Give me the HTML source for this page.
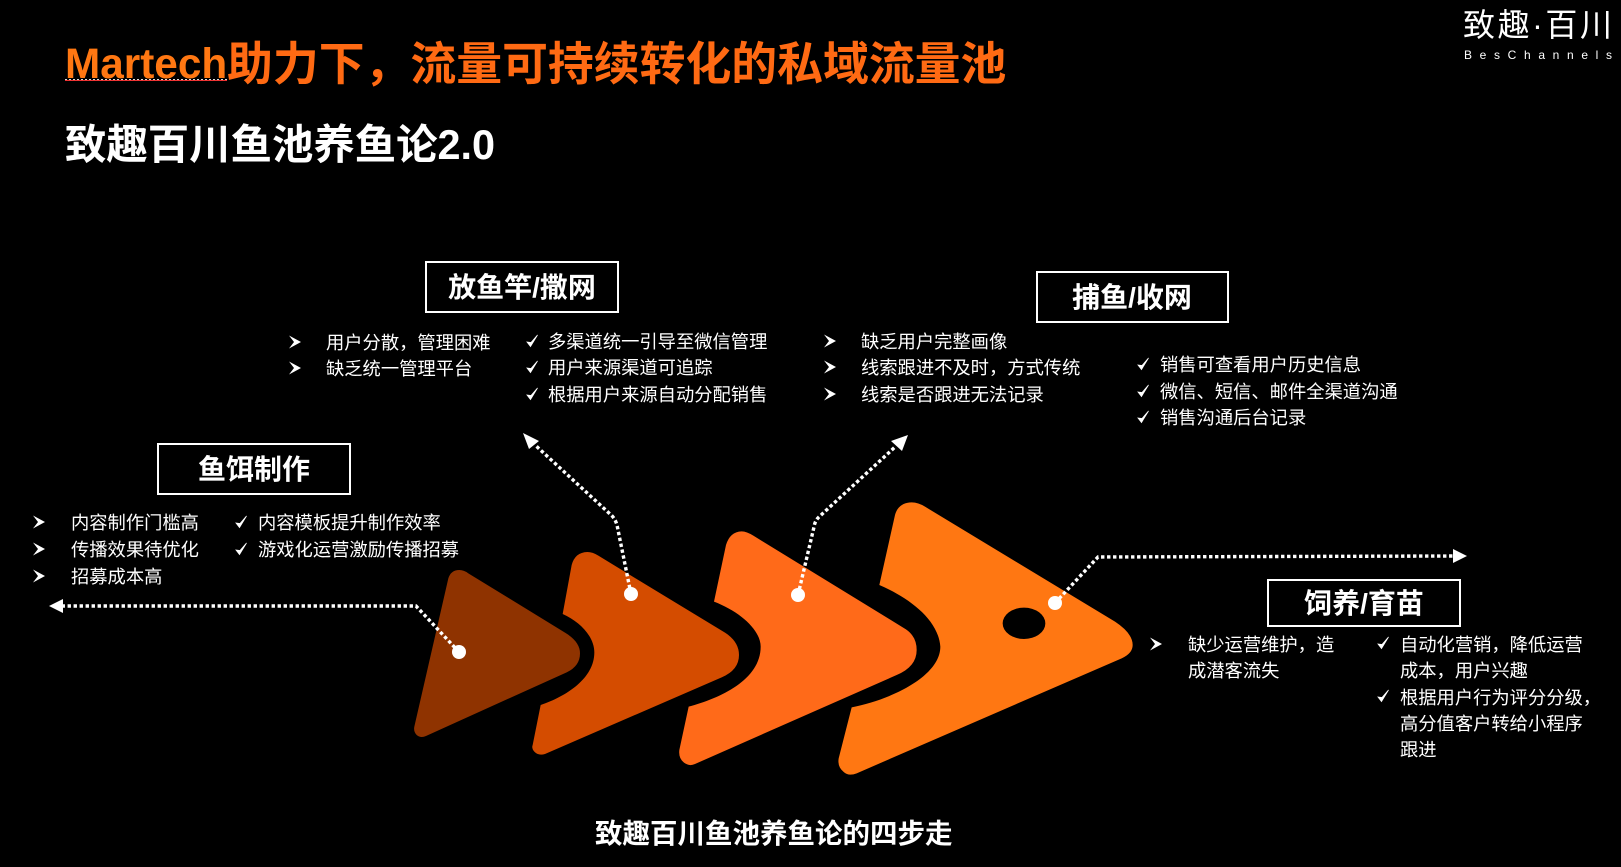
<!DOCTYPE html>
<html lang="zh">
<head>
<meta charset="utf-8">
<style>
html,body{margin:0;padding:0;background:#000;width:1621px;height:867px;overflow:hidden}
svg{display:block}
text{font-family:"Liberation Sans","Noto Sans CJK SC",sans-serif}
.t{font-size:18.3px;fill:#fff}
.h{font-size:28px;font-weight:700;fill:#fff;text-anchor:middle}
.box{fill:none;stroke:#fff;stroke-width:2}
.dash{fill:none;stroke:#fff;stroke-width:3.4;stroke-dasharray:3.4 2.6}
</style>
</head>
<body>
<svg width="1621" height="867" viewBox="0 0 1621 867" xmlns="http://www.w3.org/2000/svg">
<defs>
<path id="ar" d="M0 -6.5L12 0L0 6.5L5 0Z" fill="#fff"/>
<path id="ck" d="M0 1L3.5 5.5L10.5 -6L4 1.5Z" fill="#fff" stroke="#fff" stroke-width=".8"/>
</defs>
<rect width="1621" height="867" fill="#000"/>

<!-- Titles -->
<text x="65" y="78" font-size="42.3" font-weight="700" fill="#ff7712">Martech</text>
<text x="227" y="80" font-size="45.85" font-weight="700" fill="#ff6a13">助力下，流量可持续转化的私域流量池</text>
<line x1="65" y1="80.5" x2="227" y2="80.5" stroke="#e33" stroke-width="1"/>
<line x1="65" y1="79.5" x2="227" y2="79.5" stroke="#ddd" stroke-width="1" stroke-dasharray="2 2"/>
<text x="65" y="159" font-size="41.4" font-weight="700" fill="#fff">致趣百川鱼池养鱼论2.0</text>

<!-- Logo -->
<text x="1463" y="36" font-size="32" font-weight="400" fill="#fff" textLength="149" lengthAdjust="spacing">致趣·百川</text>
<text x="1464" y="59" font-size="12" fill="#fff" textLength="148" lengthAdjust="spacing">BesChannels</text>

<!-- Fish shapes -->
<g transform="translate(400,490) scale(0.33333)">
<path fill="#8f3300" d="M145 265Q153 240 178 240Q192 240 205 250L495 428Q540 455 540 490Q540 528 500 547L78 738Q62 745 50 735Q40 725 43 710Z"/>
<path fill="#d44c00" d="M488 372L515 225Q525 187 562 186Q578 186 595 197L975 428Q1017 455 1017 495Q1017 540 965 562L435 792Q415 798 403 785Q394 775 398 765L422 645C500 618 583 565 583 487C583 440 540 395 488 372Z"/>
<path fill="#ff6a19" d="M942 335L978 165Q990 125 1025 124Q1040 124 1060 137L1518 418Q1550 440 1550 480Q1550 530 1490 555L885 822Q868 830 852 818Q835 805 838 780L866 650C960 625 1082 570 1082 470C1082 420 1020 365 942 335Z"/>
</g>
<g transform="translate(780,490) scale(0.33333)">
<path fill="#ff7712" d="M298 285L345 75Q355 38 395 37Q415 37 435 50L1005 395Q1058 430 1058 465Q1058 490 1025 505L230 850Q205 860 190 845Q172 830 176 805L215 652C330 630 481 560 481 470C475 385 380 320 298 285Z"/>
<ellipse cx="732" cy="400" rx="64" ry="47" fill="#000"/>
</g>

<!-- Connectors -->
<path class="dash" d="M459 652L416 606L63 606"/>
<path d="M49 606L63 599L63 613Z" fill="#fff"/>
<circle cx="459" cy="652" r="7" fill="#fff"/>

<path class="dash" d="M631 594L617 525Q615 518 610 514L535 445"/>
<path d="M523 433L539 441L529 449Z" fill="#fff"/>
<circle cx="631" cy="594" r="7" fill="#fff"/>

<path class="dash" d="M798 595L814 527Q815 520 820 516L895 447"/>
<path d="M908 435L902 451L891 441Z" fill="#fff"/>
<circle cx="798" cy="595" r="7" fill="#fff"/>

<path class="dash" d="M1055 603L1098 557L1453 556"/>
<path d="M1467 556L1453 549L1453 563Z" fill="#fff"/>
<circle cx="1055" cy="603" r="7" fill="#fff"/>

<!-- Boxes -->
<rect class="box" x="158" y="444" width="192" height="50"/>
<text class="h" x="254" y="479">鱼饵制作</text>
<rect class="box" x="426" y="262" width="192" height="50"/>
<text class="h" x="522" y="297">放鱼竿/撒网</text>
<rect class="box" x="1037" y="272" width="191" height="50"/>
<text class="h" x="1132" y="307">捕鱼/收网</text>
<rect class="box" x="1268" y="580" width="192" height="46"/>
<text class="h" x="1364" y="613">饲养/育苗</text>

<!-- Bait lists -->
<use href="#ar" x="33" y="522"/><text class="t" x="71" y="529">内容制作门槛高</text>
<use href="#ar" x="33" y="549"/><text class="t" x="71" y="556">传播效果待优化</text>
<use href="#ar" x="33" y="576"/><text class="t" x="71" y="583">招募成本高</text>
<use href="#ck" x="236" y="522"/><text class="t" x="258" y="529">内容模板提升制作效率</text>
<use href="#ck" x="236" y="549"/><text class="t" x="258" y="556">游戏化运营激励传播招募</text>

<!-- Rod lists -->
<use href="#ar" x="289" y="342"/><text class="t" x="326" y="349">用户分散，管理困难</text>
<use href="#ar" x="289" y="368"/><text class="t" x="326" y="375">缺乏统一管理平台</text>
<use href="#ck" x="527" y="341"/><text class="t" x="548" y="348">多渠道统一引导至微信管理</text>
<use href="#ck" x="527" y="367"/><text class="t" x="548" y="374">用户来源渠道可追踪</text>
<use href="#ck" x="527" y="394"/><text class="t" x="548" y="401">根据用户来源自动分配销售</text>

<!-- Catch lists -->
<use href="#ar" x="824" y="341"/><text class="t" x="861" y="348">缺乏用户完整画像</text>
<use href="#ar" x="824" y="367"/><text class="t" x="861" y="374">线索跟进不及时，方式传统</text>
<use href="#ar" x="824" y="394"/><text class="t" x="861" y="401">线索是否跟进无法记录</text>
<use href="#ck" x="1138" y="364"/><text class="t" x="1160" y="371">销售可查看用户历史信息</text>
<use href="#ck" x="1138" y="391"/><text class="t" x="1160" y="398">微信、短信、邮件全渠道沟通</text>
<use href="#ck" x="1138" y="417"/><text class="t" x="1160" y="424">销售沟通后台记录</text>

<!-- Feed lists -->
<use href="#ar" x="1150" y="644"/>
<text class="t" x="1188" y="651">缺少运营维护，造</text>
<text class="t" x="1188" y="677">成潜客流失</text>
<use href="#ck" x="1378" y="643"/>
<text class="t" x="1400" y="651">自动化营销，降低运营</text>
<text class="t" x="1400" y="677">成本，用户兴趣</text>
<use href="#ck" x="1378" y="696"/>
<text class="t" x="1400" y="704">根据用户行为评分分级，</text>
<text class="t" x="1400" y="730">高分值客户转给小程序</text>
<text class="t" x="1400" y="756">跟进</text>

<!-- Caption -->
<text x="595" y="843" font-size="27.5" font-weight="700" fill="#fff">致趣百川鱼池养鱼论的四步走</text>
</svg>
</body>
</html>
